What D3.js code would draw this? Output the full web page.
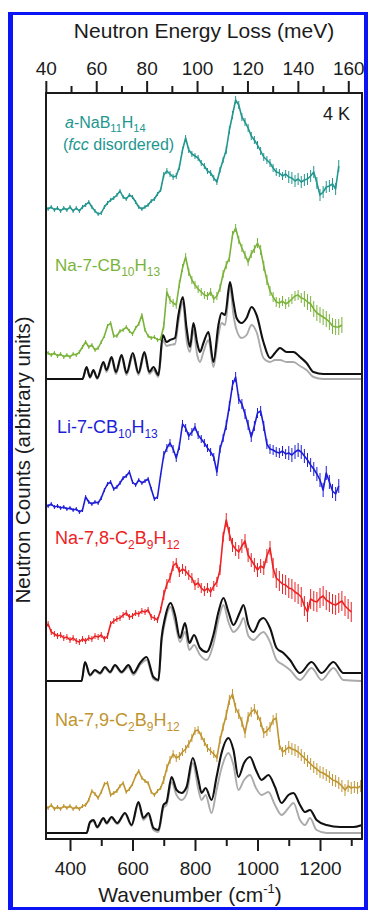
<!DOCTYPE html>
<html><head><meta charset="utf-8">
<script src="https://cdn.jsdelivr.net/npm/d3@7"></script>
<style>
body{margin:0;background:#fff}
svg{display:block}
text{font-family:"Liberation Sans",Arial,Helvetica,sans-serif}
</style>
</head><body>
<svg id="chart" width="368" height="912"></svg>
<script>
// ---------------- DATA (counts in arbitrary units, wavenumber in cm-1) ----------------
const wnStep = 10;               // bin width of the measured spectra
const meVtoCm = 8.0655;          // 1 meV = 8.0655 cm-1

const wnMajor = [400, 600, 800, 1000, 1200];
const wnMinor = [500, 700, 900, 1100, 1300];
const meVMajor = [40, 60, 80, 100, 120, 140, 160];
const meVMinor = [50, 70, 90, 110, 130, 150];

// a-NaB11H14 (fcc disordered)
const tealStart = 320;
const tealCounts = [633,631,633,630,632,629,632,630,633,629,
  632,629,633,635,638,633,629,626,627,633,
  637,640,642,645,649,643,641,645,643,638,
  633,631,633,635,639,641,646,650,665,669,
  666,663,664,673,690,702,690,686,684,682,
  677,674,669,667,662,658,670,680,690,710,
  725,740,735,723,718,712,704,700,695,689,
  683,680,677,672,668,667,664,666,663,662,
  659,661,658,660,661,664,668,657,645,648,
  653,654,656,651,674];
const tealErr = [[320,2],[700,3],[900,4],[1100,6]];

// Na-7-CB10H13
const greenStart = 320;
const greenCounts = [488,487,485,487,484,486,483,485,483,486,
  485,488,493,498,493,495,490,492,498,504,
  514,517,504,504,509,510,513,509,506,512,
  516,525,510,504,502,503,500,501,514,548,
  540,537,535,556,572,583,568,560,555,551,
  548,545,544,548,541,544,552,566,575,582,
  605,612,600,592,585,578,586,591,597,590,
  574,560,549,543,538,537,539,536,538,541,
  544,545,542,541,538,536,531,527,525,523,
  521,518,514,513,513,515];
const greenErr = [[320,2],[700,4],[1000,5],[1150,8]];

// Li-7-CB10H13
const blueStart = 320;
const blueCounts = [335,334,336,333,334,332,333,331,332,330,
  331,328,330,343,338,336,338,337,342,350,
  356,358,351,353,357,362,364,368,358,355,
  360,357,359,361,351,341,343,365,385,392,
  397,391,382,394,416,412,404,408,413,405,
  401,397,392,388,383,368,391,402,415,434,
  455,463,441,436,426,415,403,414,427,429,
  414,396,391,390,388,387,389,386,387,385,
  388,390,388,384,380,375,371,366,360,350,
  367,358,349,346,354];
const blueErr = [[320,2],[700,4],[900,5],[1100,7]];

// Na-7,8-C2B9H12
const redStart = 320;
const redCounts = [213,216,208,206,204,205,202,203,200,202,
  199,198,201,199,202,201,204,203,205,201,
  204,216,219,221,222,225,227,223,224,227,
  226,229,228,230,223,222,220,230,245,256,
  262,274,277,268,271,269,265,262,255,257,
  252,249,252,248,254,258,270,303,320,306,
  295,291,288,294,299,285,280,275,270,274,
  272,284,292,272,262,259,256,255,252,251,
  248,246,243,234,228,241,239,238,242,244,
  240,238,236,235,237,239,234,231,228];
const redErr = [[320,3],[700,5],[900,7],[1050,10]];

// Na-7,9-C2B9H12
const goldStart = 320;
const goldCounts = [34,32,35,31,33,31,34,32,34,31,
  33,31,34,35,40,49,46,42,48,56,
  57,45,47,49,54,57,48,51,56,64,
  69,62,59,57,48,45,49,52,60,72,
  80,86,82,84,88,91,96,102,109,110,
  104,98,92,89,86,82,100,113,125,140,
  146,132,126,118,107,123,128,131,125,118,
  107,109,113,120,122,95,88,90,93,91,
  90,88,85,82,79,76,73,71,68,67,
  65,63,60,59,57,54,50,54,52,53,
  52,54];
const goldErr = [[320,2],[700,4],[900,5],[1100,6]];

// Simulated spectra [wavenumber, counts]
const simCB_black = [[320,461],[440,461],[453,473],[464,463],[475,470],[487,462],[507,478],[517,470],[533,483],[547,468],[565,485],[581,467],[601,487],[619,467],[638,488],[654,468],[667,473],[683,465],[697,505],[709,498],[720,500],[736,502],[747,525],[761,543],[773,512],[784,493],[795,517],[807,497],[816,488],[827,497],[843,508],[859,478],[875,515],[885,527],[896,525],[912,558],[923,538],[933,522],[949,517],[965,522],[981,533],[997,525],[1019,498],[1040,482],[1056,487],[1072,492],[1093,488],[1115,488],[1136,483],[1157,477],[1179,468],[1211,466],[1335,466]];
const simCB_gray = [[320,461],[440,461],[453,472],[464,462],[475,469],[487,461],[507,476],[517,468],[533,481],[547,466],[565,483],[581,465],[601,484],[619,465],[638,485],[654,466],[667,470],[683,463],[697,500],[709,494],[720,495],[736,496],[747,518],[761,538],[773,500],[784,488],[795,510],[807,485],[816,478],[827,488],[843,500],[859,473],[875,505],[885,517],[896,515],[912,553],[923,525],[933,510],[949,502],[965,505],[981,515],[997,508],[1019,482],[1040,478],[1056,480],[1072,480],[1093,478],[1115,478],[1136,474],[1157,470],[1179,463],[1211,461],[1335,461]];
const sim78_black = [[320,159],[437,159],[448,178],[464,165],[480,170],[496,167],[512,173],[528,168],[544,175],[565,168],[587,175],[603,167],[624,177],[645,183],[667,163],[683,160],[693,202],[704,222],[722,237],[736,225],[752,202],[768,217],[782,197],[797,205],[816,192],[837,188],[859,205],[875,228],[891,242],[907,228],[923,215],[944,228],[955,235],[971,215],[987,208],[1008,220],[1019,222],[1040,212],[1061,192],[1083,187],[1104,180],[1136,167],[1173,178],[1205,167],[1243,178],[1275,167],[1335,167]];
const sim78_gray = [[320,159],[437,159],[448,177],[464,164],[480,169],[496,166],[512,172],[528,167],[544,174],[565,167],[587,173],[603,165],[624,175],[645,180],[667,161],[683,159],[693,198],[704,218],[722,233],[736,218],[752,198],[768,208],[782,190],[797,195],[816,185],[837,180],[859,196],[875,220],[891,235],[907,218],[923,208],[944,215],[955,222],[971,204],[987,200],[1008,206],[1019,208],[1040,198],[1061,180],[1083,175],[1104,170],[1136,160],[1173,172],[1205,160],[1243,172],[1275,160],[1335,159]];
const sim79_black = [[320,7],[453,7],[464,18],[475,20],[487,13],[507,22],[517,17],[533,23],[551,17],[576,27],[597,15],[619,38],[635,22],[651,27],[667,12],[683,10],[699,35],[709,38],[725,63],[741,50],[757,47],[773,53],[793,82],[811,60],[821,47],[834,52],[853,40],[869,63],[885,87],[907,102],[923,90],[939,63],[957,77],[976,83],[995,70],[1013,60],[1035,65],[1056,53],[1077,37],[1099,45],[1115,47],[1136,35],[1152,28],[1168,30],[1189,20],[1221,15],[1264,13],[1307,13],[1335,15]];
const sim79_gray = [[320,7],[453,7],[464,17],[475,19],[487,12],[507,21],[517,16],[533,22],[551,16],[576,26],[597,14],[619,36],[635,20],[651,25],[667,10],[683,8],[699,32],[709,35],[725,58],[741,45],[757,40],[773,46],[793,77],[811,50],[821,40],[834,45],[853,27],[869,50],[885,72],[907,87],[923,75],[939,50],[957,60],[976,65],[995,52],[1013,45],[1035,48],[1056,35],[1077,25],[1099,32],[1115,37],[1136,20],[1152,15],[1168,22],[1189,10],[1221,7],[1264,7],[1335,7]];

// ---------------- LAYOUT ----------------
const svg = d3.select("#chart");
const P = {l:46, r:362, t:93, b:839};
const x = d3.scaleLinear().domain([323.2, 1334.4]).range([P.l, P.r]);
const xE = d3.scaleLinear().domain([323.2/meVtoCm, 1334.4/meVtoCm]).range([P.l, P.r]);
const y = d3.scaleLinear().domain([0, 747]).range([840, 93]);

const C = {teal:"#22968f", green:"#7ab33a", blue:"#1e1ed8", red:"#ec2224", gold:"#bf9530", black:"#111", gray:"#aaaaaa", frame:"#1b1b1b", border:"#0a14f5"};

svg.append("rect").attr("width",368).attr("height",912).attr("fill","#fff");
// blue outer border
svg.append("rect").attr("x",8).attr("y",12).attr("width",5).attr("height",898).attr("fill",C.border);
svg.append("rect").attr("x",8).attr("y",12).attr("width",360).attr("height",3).attr("fill",C.border);
svg.append("rect").attr("x",364).attr("y",12).attr("width",4).attr("height",898).attr("fill",C.border);
svg.append("rect").attr("x",8).attr("y",907).attr("width",360).attr("height",3).attr("fill",C.border);

svg.append("clipPath").attr("id","clip").append("rect")
  .attr("x",P.l+1).attr("y",P.t+1).attr("width",P.r-P.l-2).attr("height",P.b-P.t-2);
const plot = svg.append("g").attr("clip-path","url(#clip)");

const simLine = d3.line().x(d=>x(d[0])).y(d=>y(d[1])).curve(d3.curveMonotoneX);
function drawSim(data, color, w){
  plot.append("path").datum(data).attr("d",simLine).attr("fill","none")
    .attr("stroke",color).attr("stroke-width",w).attr("stroke-linejoin","round");
}
[[simCB_gray,simCB_black],[sim78_gray,sim78_black],[sim79_gray,sim79_black]].forEach(([g,b])=>{
  drawSim(g, C.gray, 1.9);
  drawSim(b, C.black, 2.1);
});

function errAt(levels, wn){ let e = levels[0][1]; levels.forEach(([w,v])=>{ if(wn>=w) e=v; }); return e; }
const expLine = d3.line().x(d=>x(d.wn)).y(d=>y(d.c));
function drawExp(start, counts, errs, color){
  const data = counts.map((c,i)=>({wn:start+i*wnStep, c, e:errAt(errs, start+i*wnStep)}));
  const g = plot.append("g");
  g.selectAll("line").data(data).join("line")
    .attr("x1",d=>x(d.wn)).attr("x2",d=>x(d.wn))
    .attr("y1",d=>y(d.c-d.e)).attr("y2",d=>y(d.c+d.e))
    .attr("stroke",color).attr("stroke-width",1);
  g.append("path").datum(data).attr("d",expLine).attr("fill","none")
    .attr("stroke",color).attr("stroke-width",1.6).attr("stroke-linejoin","round");
}
drawExp(tealStart, tealCounts, tealErr, C.teal);
drawExp(greenStart, greenCounts, greenErr, C.green);
drawExp(blueStart, blueCounts, blueErr, C.blue);
drawExp(redStart, redCounts, redErr, C.red);
drawExp(goldStart, goldCounts, goldErr, C.gold);

// frame
svg.append("rect").attr("x",P.l).attr("y",P.t).attr("width",P.r-P.l).attr("height",P.b-P.t)
  .attr("fill","none").attr("stroke",C.frame).attr("stroke-width",2);

// axes
function styleAxis(g){
  g.select(".domain").remove();
  g.attr("font-family","Liberation Sans, Arial, sans-serif").attr("font-size",19);
  g.selectAll(".tick line").attr("stroke",C.frame).attr("stroke-width",2);
  g.selectAll(".tick text").attr("fill","#1b1b1b");
}
styleAxis(svg.append("g").attr("transform",`translate(0,${P.b})`)
  .call(d3.axisBottom(x).tickValues(wnMajor).tickSize(12).tickPadding(11).tickFormat(d3.format("d"))));
styleAxis(svg.append("g").attr("transform",`translate(0,${P.b})`)
  .call(d3.axisBottom(x).tickValues(wnMinor).tickSize(7).tickFormat("")));
styleAxis(svg.append("g").attr("transform",`translate(0,${P.t})`)
  .call(d3.axisTop(xE).tickValues(meVMajor).tickSize(12).tickPadding(6).tickFormat(d3.format("d"))));
styleAxis(svg.append("g").attr("transform",`translate(0,${P.t})`)
  .call(d3.axisTop(xE).tickValues(meVMinor).tickSize(7).tickFormat("")));

// axis titles
svg.append("text").attr("x",204).attr("y",38).attr("text-anchor","middle")
  .attr("font-size",21).attr("fill","#1b1b1b").text("Neutron Energy Loss (meV)");
const bt = svg.append("text").attr("x",190).attr("y",902).attr("text-anchor","middle")
  .attr("font-size",21).attr("fill","#1b1b1b");
bt.append("tspan").text("Wavenumber (cm");
bt.append("tspan").attr("dy",-9).attr("font-size",13).text("-1");
bt.append("tspan").attr("dy",9).text(")");
svg.append("text").attr("transform","translate(30,460) rotate(-90)").attr("text-anchor","middle")
  .attr("font-size",20.5).attr("fill","#1b1b1b").text("Neutron Counts (arbitrary units)");

// series labels
function label(px, py, color, size, parts){
  const t = svg.append("text").attr("x",px).attr("y",py).attr("font-size",size).attr("fill",color);
  let shift = 0;
  const subShift = Math.round(size*0.27);
  parts.forEach(p=>{
    const s = t.append("tspan").text(p.t);
    const target = p.sub ? subShift : 0;
    if (target !== shift) { s.attr("dy", target - shift); shift = target; }
    if (p.sub) s.attr("font-size",Math.round(size*0.68));
    if (p.it) s.attr("font-style","italic");
  });
}
label(65,128,C.teal,16,[{t:"a",it:true},{t:"-NaB"},{t:"11",sub:true},{t:"H"},{t:"14",sub:true}]);
label(63,150,C.teal,16,[{t:"("},{t:"fcc",it:true},{t:" disordered)"}]);
svg.append("text").attr("x",350).attr("y",120).attr("text-anchor","end").attr("font-size",18)
  .attr("fill","#1b1b1b").text("4 K");
label(55,271,C.green,17,[{t:"Na-7-CB"},{t:"10",sub:true},{t:"H"},{t:"13",sub:true}]);
label(57,433,C.blue,18,[{t:"Li-7-CB"},{t:"10",sub:true},{t:"H"},{t:"13",sub:true}]);
label(55,544,C.red,18,[{t:"Na-7,8-C"},{t:"2",sub:true},{t:"B"},{t:"9",sub:true},{t:"H"},{t:"12",sub:true}]);
label(55,726,C.gold,18,[{t:"Na-7,9-C"},{t:"2",sub:true},{t:"B"},{t:"9",sub:true},{t:"H"},{t:"12",sub:true}]);
</script>
</body></html>
